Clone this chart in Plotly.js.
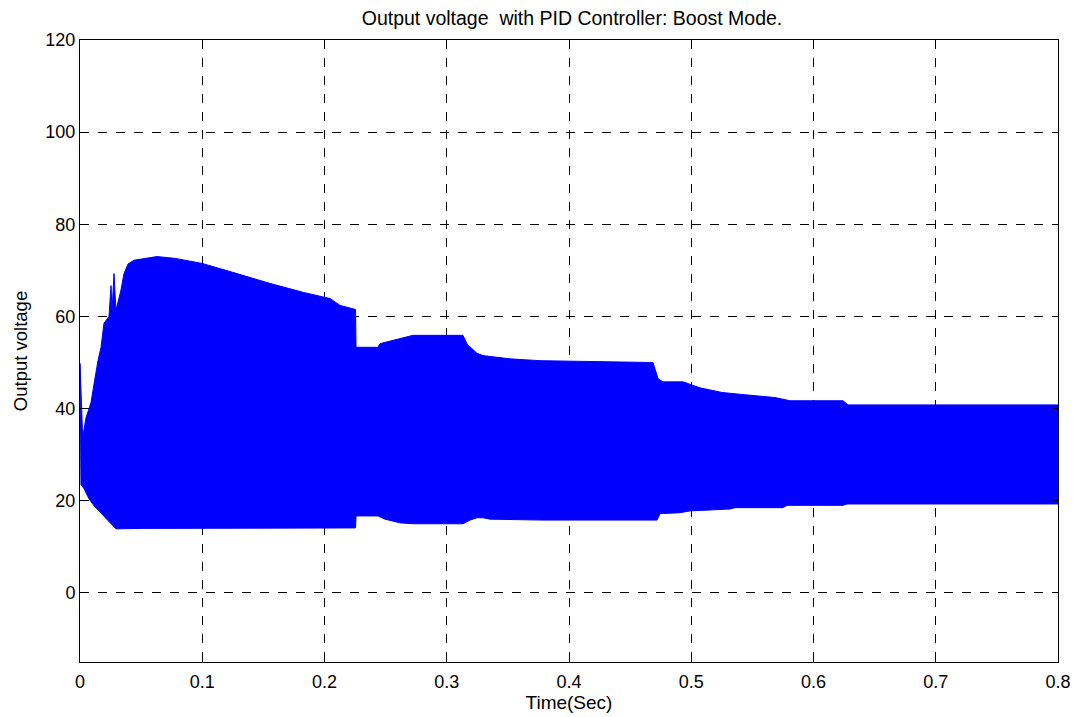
<!DOCTYPE html>
<html>
<head>
<meta charset="utf-8">
<script src="https://cdn.plot.ly/plotly-3.0.1.min.js"></script>
<style>html,body{margin:0;padding:0;background:#fff;}#chart{width:1075px;height:717px;}</style>
</head>
<body>
<div id="chart"></div>
<script>
// Upper envelope of the oscillating output voltage (time in s, voltage in V)
const upperTime = [0, 0.0022, 0.0049, 0.009, 0.0115, 0.0147, 0.0172, 0.0196, 0.0237, 0.0254, 0.0262, 0.0278, 0.0294, 0.0335, 0.036, 0.0393, 0.0442, 0.063, 0.078, 0.1, 0.1284, 0.155, 0.183, 0.194, 0.2045, 0.2127, 0.2233, 0.2254, 0.2258, 0.2438, 0.2454, 0.2618, 0.2724, 0.3133, 0.3166, 0.3247, 0.3297, 0.3517, 0.3763, 0.4687, 0.4728, 0.4769, 0.4933, 0.5072, 0.5252, 0.544, 0.5685, 0.5808, 0.6241, 0.6282, 0.8];
const upperVolt = [49.8, 33.7, 38, 41.3, 45.4, 50.4, 53.3, 58.5, 60, 66.7, 61, 69.3, 61.3, 65.7, 69.3, 71.4, 72.2, 73, 72.6, 71.5, 69.3, 67.2, 65.2, 64.6, 63.9, 62.4, 61.7, 61.5, 53.3, 53.3, 54.1, 55.2, 55.9, 55.9, 54, 52, 51.5, 50.8, 50.4, 50, 46.5, 45.8, 45.8, 44.5, 43.5, 43, 42.4, 41.7, 41.7, 40.8, 40.8];

// Lower envelope
const lowerTime = [0, 0.0008, 0.0033, 0.0074, 0.0115, 0.0155, 0.0213, 0.0254, 0.0294, 0.0515, 0.2233, 0.2254, 0.2258, 0.2438, 0.2495, 0.2618, 0.2724, 0.3133, 0.319, 0.3247, 0.3297, 0.3354, 0.3787, 0.472, 0.4744, 0.4908, 0.499, 0.5317, 0.5358, 0.575, 0.5783, 0.6241, 0.6274, 0.8];
const lowerVolt = [49.8, 23.5, 22.6, 20.4, 18.9, 17.8, 16.3, 15, 13.9, 14, 14.1, 14.1, 16.7, 16.7, 16, 15.2, 15, 15, 15.8, 16.3, 16.3, 16, 15.8, 15.8, 17.2, 17.4, 17.8, 18.2, 18.5, 18.5, 19, 19, 19.3, 19.3];

const xTicks = [0, 0.1, 0.2, 0.3, 0.4, 0.5, 0.6, 0.7, 0.8];
const xTickText = ['0', '0.1', '0.2', '0.3', '0.4', '0.5', '0.6', '0.7', '0.8'];
const yTicks = [0, 20, 40, 60, 80, 100, 120];

const blue = 'rgb(0,0,255)';
const traces = [
  {x: lowerTime, y: lowerVolt, type: 'scatter', mode: 'lines', line: {color: blue, width: 1}, hoverinfo: 'skip', showlegend: false},
  {x: upperTime, y: upperVolt, type: 'scatter', mode: 'lines', fill: 'tonexty', fillcolor: blue, line: {color: blue, width: 1}, hoverinfo: 'skip', showlegend: false}
];

const fontFam = '"Liberation Sans", Arial, Helvetica, sans-serif';
const layout = {
  width: 1075, height: 717,
  margin: {l: 80, r: 17, t: 40, b: 55},
  paper_bgcolor: '#fff', plot_bgcolor: '#fff',
  font: {family: fontFam, size: 18, color: '#000'},
  title: {text: 'Output voltage  with PID Controller: Boost Mode.', font: {family: fontFam, size: 19.5, color: '#000'}, x: 572/1075, xanchor: 'center', y: 1 - 18/717, yanchor: 'middle', yref: 'container', xref: 'container'},
  xaxis: {
    range: [0, 0.8], tickvals: xTicks, ticktext: xTickText,
    showline: true, mirror: 'allticks', linecolor: '#000', linewidth: 1,
    ticks: 'inside', ticklen: 5, tickcolor: '#000',
    showgrid: true, gridcolor: '#000', griddash: 'dash', gridwidth: 1,
    zeroline: false, automargin: false, ticklabelstandoff: 3,
    tickfont: {family: fontFam, size: 18, color: '#000'},
    title: {text: 'Time(Sec)', font: {family: fontFam, size: 19, color: '#000'}, standoff: 5}
  },
  yaxis: {
    range: [-15, 120], tickvals: yTicks,
    showline: true, mirror: 'allticks', linecolor: '#000', linewidth: 1,
    ticks: 'inside', ticklen: 5, tickcolor: '#000',
    showgrid: true, gridcolor: '#000', griddash: 'dash', gridwidth: 1,
    zeroline: false, automargin: false,
    tickfont: {family: fontFam, size: 18, color: '#000'},
    title: {text: 'Output voltage', font: {family: fontFam, size: 18.5, color: '#000'}, standoff: 12}
  }
};

Plotly.newPlot('chart', traces, layout, {staticPlot: true, displayModeBar: false});
</script>
</body>
</html>
